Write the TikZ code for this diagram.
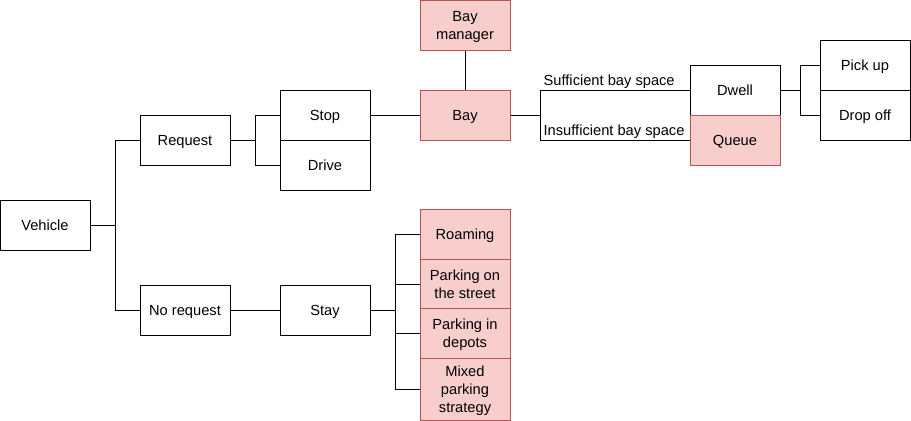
\documentclass[tikz,border=0pt]{standalone}
\usepackage{fontspec}
\setmainfont{Liberation Sans}
\definecolor{pinkfill}{HTML}{F8CECC}
\definecolor{pinkline}{HTML}{B85450}
\tikzset{
  box/.style={draw=black, fill=white, minimum width=67.5pt, minimum height=37.5pt, align=center, inner sep=1pt, text depth=0pt, font=\fontsize{11}{13.5}\selectfont},
  redbox/.style={box, draw=pinkline, fill=pinkfill},
  edgelabel/.style={anchor=south west, inner sep=1pt, xshift=1pt, font=\fontsize{11}{13.5}\selectfont}
}
\begin{document}
\begin{tikzpicture}[x=0.75pt, y=-0.75pt, line width=0.75pt]
\useasboundingbox (0,0) rectangle (911,421);
% tree nodes
\node[box] (vehicle) at (45,225) {Vehicle};
\node[box] (request) at (185,140) {Request};
\node[box] (norequest) at (185,310) {No request};
\node[box] (stop) at (325,115) {Stop};
\node[box] (drive) at (325,165) {Drive};
\node[box] (stay) at (325,310) {Stay};
\node[redbox] (baymanager) at (465,25) {Bay\\manager};
\node[redbox] (bay) at (465,115) {Bay};
\node[box] (dwell) at (735,90) {Dwell};
\node[redbox] (queue) at (735,140) {Queue};
\node[box] (pickup) at (865,65) {Pick up};
\node[box] (dropoff) at (865,115) {Drop off};
\node[redbox] (roaming) at (465,234) {Roaming};
\node[redbox] (street) at (465,284) {Parking on\\the street};
\node[redbox] (depots) at (465,333.5) {Parking in\\depots};
\node[redbox, minimum height=46.5pt] (mixed) at (465,389) {Mixed\\parking\\strategy};
% connectors
\draw (vehicle.east) -- ++(25,0) |- (request.west);
\draw (vehicle.east) -- ++(25,0) |- (norequest.west);
\draw (request.east) -- ++(25,0) |- (stop.west);
\draw (request.east) -- ++(25,0) |- (drive.west);
\draw (stop.east) -- (bay.west);
\draw (baymanager.south) -- (bay.north);
\draw (bay.east) -- ++(30,0) coordinate (bayfork) |- (dwell.west);
\draw (bay.east) -- ++(30,0) |- (queue.west);
\node[edgelabel] (sufficient) at (bayfork |- dwell.west) {Sufficient bay space};
\node[edgelabel] (insufficient) at (bayfork |- queue.west) {Insufficient bay space};
\draw (dwell.east) -- ++(20,0) |- (pickup.west);
\draw (dwell.east) -- ++(20,0) |- (dropoff.west);
\draw (norequest.east) -- (stay.west);
\draw (stay.east) -- ++(25,0) |- (roaming.west);
\draw (stay.east) -- ++(25,0) |- (street.west);
\draw (stay.east) -- ++(25,0) |- (depots.west);
\draw (stay.east) -- ++(25,0) |- (mixed.west);
\end{tikzpicture}
\end{document}
